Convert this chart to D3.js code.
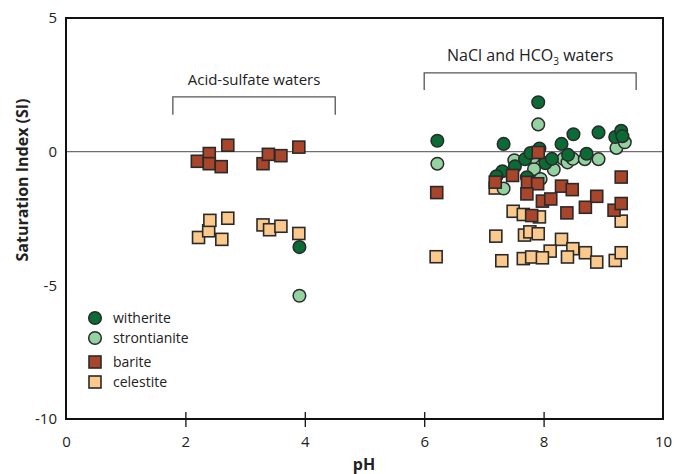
<!DOCTYPE html>
<html><head><meta charset="utf-8">
<script src="https://cdn.jsdelivr.net/npm/d3@7/dist/d3.min.js"></script>
<style>body{margin:0;background:#fff}svg{display:block}text{font-family:"Open Sans","Noto Sans",sans-serif;fill:#222}</style>
</head><body><svg id="c" width="676" height="474"></svg>
<script>
const xTicks = [0, 2, 4, 6, 8, 10];
const yTicks = [5, 0, -5, -10];
const witherite = [[3.91,-3.57],[6.22,0.41],[7.33,0.29],[7.31,-0.73],[7.21,-0.92],[7.52,-0.55],[7.69,-0.28],[7.78,-0.05],[7.93,0.12],[8.03,-0.43],[8.14,-0.27],[7.72,-0.96],[7.91,1.85],[8.30,0.29],[8.41,-0.12],[8.50,0.65],[8.72,-0.08],[8.92,0.72],[9.20,0.55],[9.30,0.78],[9.32,0.58]];
const strontianite = [[3.91,-5.39],[6.22,-0.45],[7.33,-1.38],[7.51,-0.32],[7.91,1.02],[7.84,-0.65],[7.95,-1.02],[7.83,-0.2],[8.33,-0.27],[8.40,-0.40],[8.49,-0.27],[8.17,-0.67],[8.69,-0.28],[8.92,-0.28],[9.22,0.14],[9.36,0.35]];
const barite = [[2.20,-0.36],[2.40,-0.07],[2.40,-0.45],[2.60,-0.56],[2.71,0.24],[3.30,-0.45],[3.39,-0.10],[3.60,-0.15],[3.90,0.17],[6.21,-1.53],[7.19,-1.14],[7.48,-0.89],[7.91,-0.03],[7.73,-1.15],[7.90,-1.20],[7.72,-1.58],[8.30,-1.29],[8.48,-1.42],[7.98,-1.85],[8.12,-1.77],[7.80,-2.39],[8.39,-2.29],[8.70,-2.08],[8.89,-1.67],[9.18,-2.19],[9.30,-1.94],[9.30,-0.95]];
const celestite = [[2.22,-3.21],[2.39,-2.96],[2.41,-2.57],[2.61,-3.28],[2.71,-2.49],[3.30,-2.74],[3.41,-2.92],[3.60,-2.79],[3.90,-3.06],[6.20,-3.93],[7.19,-1.36],[7.20,-3.16],[7.30,-4.08],[7.49,-2.23],[7.66,-2.35],[7.93,-2.44],[7.68,-3.12],[7.77,-3.00],[7.91,-3.07],[8.30,-3.28],[8.49,-3.63],[8.11,-3.72],[7.66,-4.00],[7.80,-3.94],[7.98,-3.97],[8.40,-3.94],[8.70,-3.78],[8.89,-4.13],[9.20,-4.07],[9.30,-3.78],[9.30,-2.60]];
const groups = [
  {name:"Acid-sulfate waters", x0:1.79, x1:4.51, top:2.05, bottom:1.38},
  {name:"NaCl and HCO", sub:"3", tail:" waters", x0:6.0, x1:9.55, top:2.95, bottom:2.31}
];
const legendItems = [
  {name:"witherite", shape:"circle", color:"#0b6b34"},
  {name:"strontianite", shape:"circle", color:"#94d3a1"},
  {name:"barite", shape:"square", color:"#a9452b"},
  {name:"celestite", shape:"square", color:"#fcc98c"}
];

const svg = d3.select("#c");
const x = d3.scaleLinear().domain([0,10]).range([66,663]);
const y = d3.scaleLinear().domain([-10,5]).range([419,18]);

// zero line
svg.append("line").attr("x1",x(0)).attr("x2",x(10)).attr("y1",y(0)).attr("y2",y(0))
  .attr("stroke","#6f6f6f").attr("stroke-width",1.3);

// brackets
groups.forEach(g=>{
  svg.append("path").attr("fill","none").attr("stroke","#555").attr("stroke-width",1.3)
    .attr("d",`M${x(g.x0)},${y(g.bottom)}V${y(g.top)}H${x(g.x1)}V${y(g.bottom)}`);
  const t = svg.append("text").attr("x",(x(g.x0)+x(g.x1))/2).attr("y",y(g.top)-12)
    .attr("text-anchor","middle").attr("font-size",g.sub?16:15);
  t.append("tspan").text(g.name);
  if(g.sub){
    t.append("tspan").text(g.sub).attr("font-size",10).attr("dy",4);
    t.append("tspan").text(g.tail).attr("dy",-4);
  }
});

const stroke = "#2a2a2a";
function squares(data,color){
  svg.append("g").selectAll("rect").data(data).join("rect")
    .attr("x",d=>x(d[0])-6).attr("y",d=>y(d[1])-6).attr("width",12).attr("height",12)
    .attr("fill",color).attr("stroke",stroke).attr("stroke-width",1.6);
}
function circles(data,color){
  svg.append("g").selectAll("circle").data(data).join("circle")
    .attr("cx",d=>x(d[0])).attr("cy",d=>y(d[1])).attr("r",6.3)
    .attr("fill",color).attr("stroke",stroke).attr("stroke-width",1.5);
}
squares(celestite, legendItems[3].color);
circles(strontianite, legendItems[1].color);
circles(witherite, legendItems[0].color);
squares(barite, legendItems[2].color);

// frame
svg.append("rect").attr("x",x(0)).attr("y",y(5)).attr("width",x(10)-x(0)).attr("height",y(-10)-y(5))
  .attr("fill","none").attr("stroke","#111").attr("stroke-width",2);

const fmt = d => String(d);
// x axis
const xa = svg.append("g").attr("transform",`translate(0,${y(-10)})`)
  .call(d3.axisBottom(x).tickValues(xTicks).tickFormat(fmt).tickSize(8).tickPadding(9));
xa.select(".domain").remove();
xa.selectAll(".tick line").attr("y1",-7).attr("y2",8).attr("stroke","#111").attr("stroke-width",1.3)
  .filter(d=>d===0||d===10).remove();
xa.selectAll("text").attr("font-size",15).attr("font-family","'Open Sans',sans-serif").attr("fill","#222");

// y axis
const ya = svg.append("g").attr("transform",`translate(${x(0)},0)`)
  .call(d3.axisLeft(y).tickValues(yTicks).tickFormat(fmt).tickSize(0).tickPadding(9));
ya.select(".domain").remove();
ya.selectAll("text").attr("font-size",15).attr("font-family","'Open Sans',sans-serif").attr("fill","#222");

// axis titles
svg.append("text").attr("x",364).attr("y",470).attr("text-anchor","middle")
  .attr("font-size",16).attr("font-weight","bold").text("pH");
svg.append("text").attr("transform","translate(28,180) rotate(-90)").attr("text-anchor","middle")
  .attr("font-size",16).attr("font-weight","bold").text("Saturation Index (SI)");

// legend
const ly = [318, 338, 362, 382];
legendItems.forEach((it,i)=>{
  if(it.shape==="circle"){
    svg.append("circle").attr("cx",95).attr("cy",ly[i]).attr("r",6.3).attr("fill",it.color)
      .attr("stroke",stroke).attr("stroke-width",1.5);
  } else {
    svg.append("rect").attr("x",89).attr("y",ly[i]-6).attr("width",12).attr("height",12).attr("fill",it.color)
      .attr("stroke",stroke).attr("stroke-width",1.6);
  }
  svg.append("text").attr("x",113).attr("y",ly[i]+5).attr("font-size",14).text(it.name);
});
</script></body></html>
